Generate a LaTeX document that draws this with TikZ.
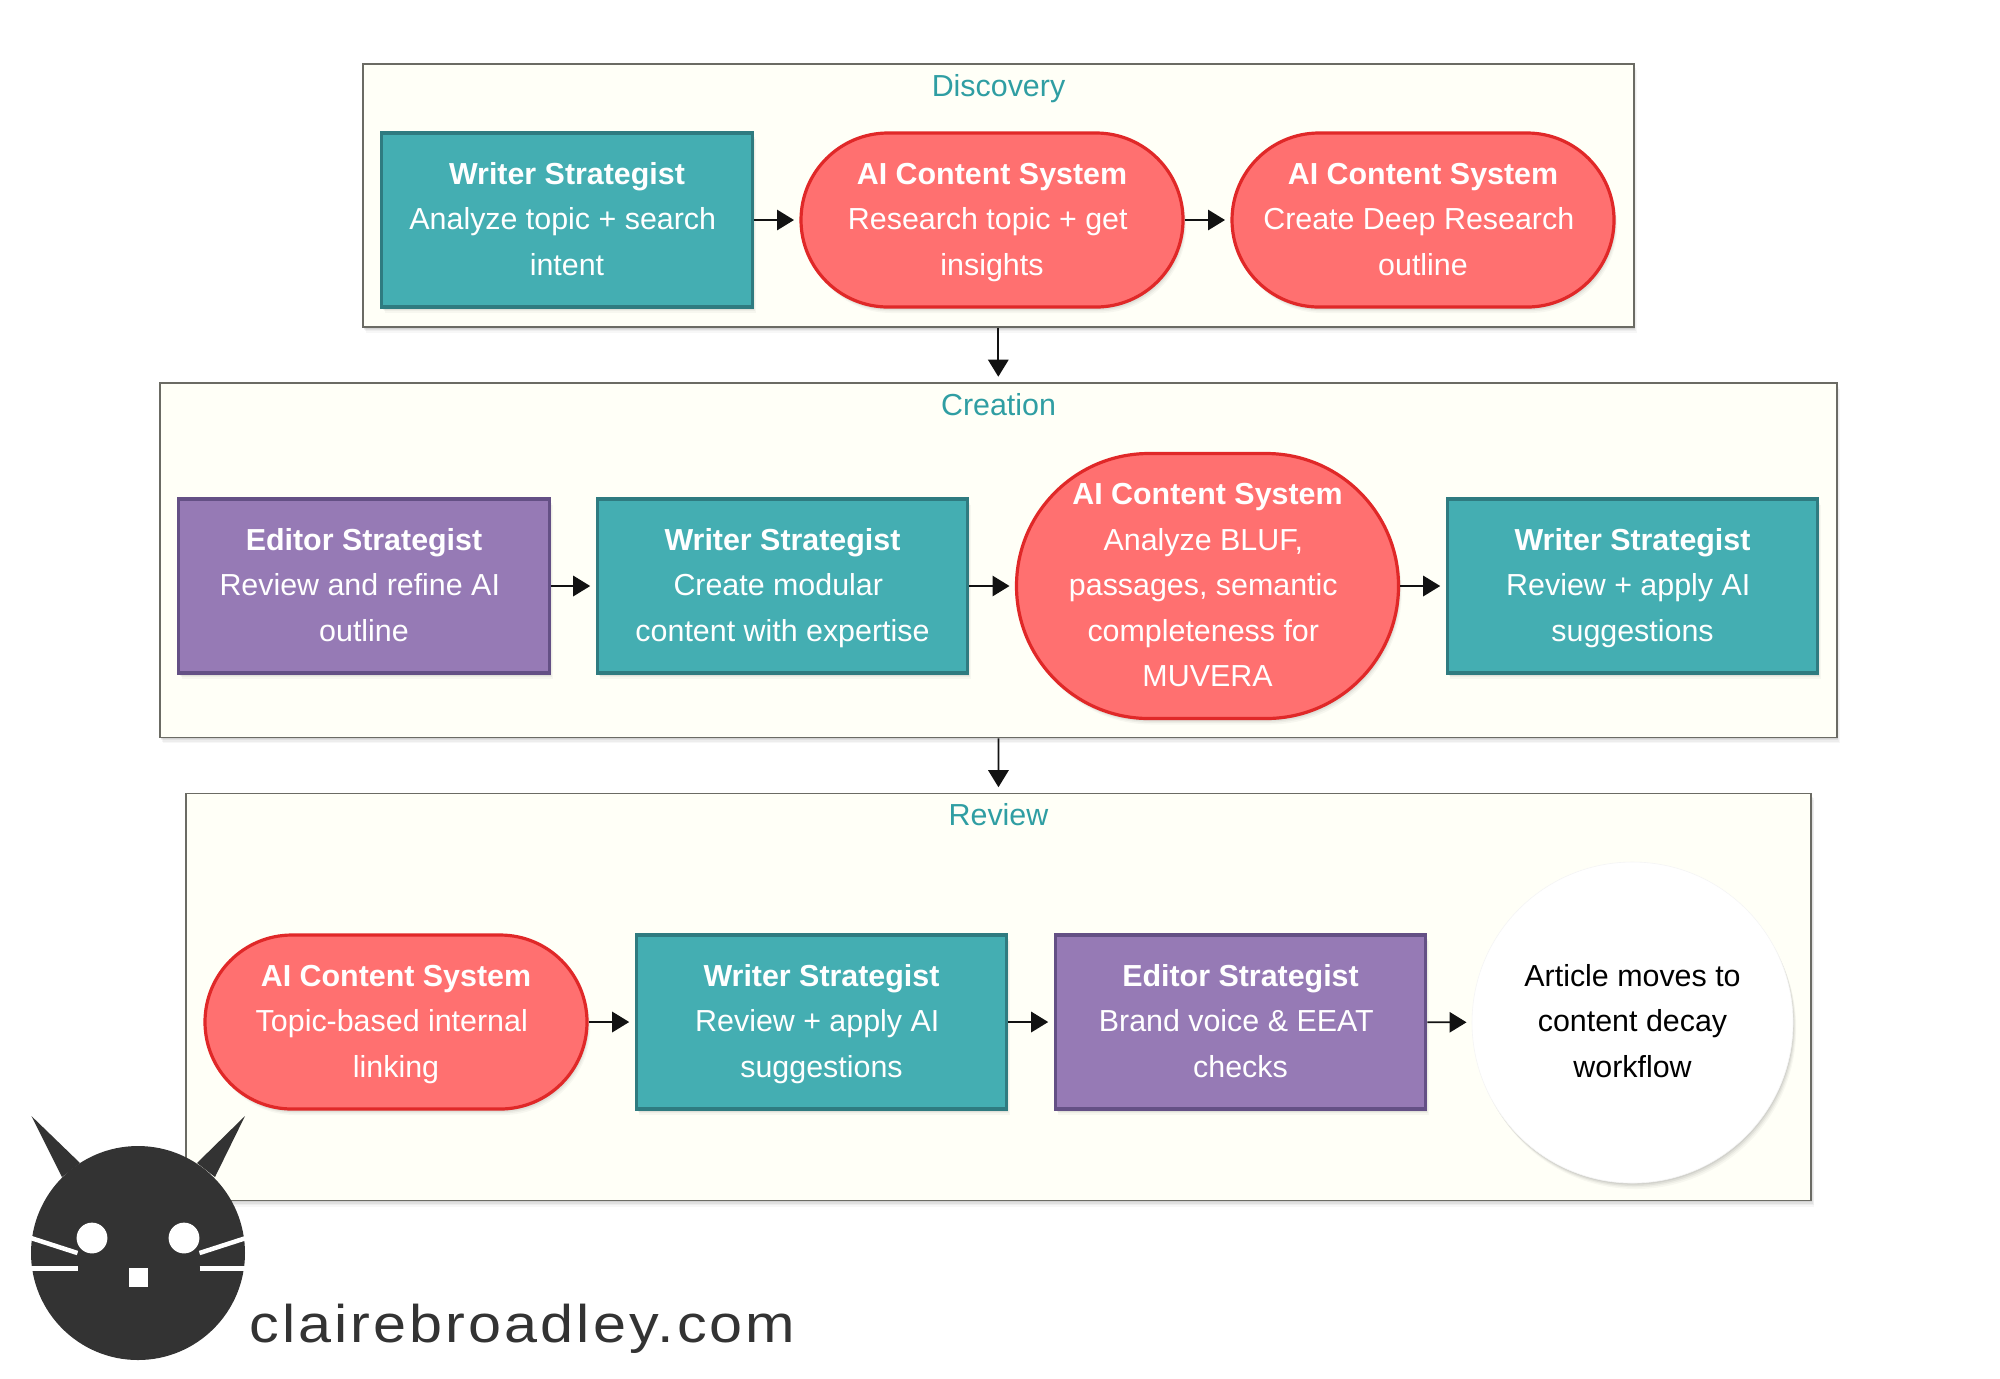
\documentclass[tikz,border=0pt]{standalone}
\usepackage{fontspec}
\setmainfont{Liberation Sans}
\newfontfamily\logofont[FakeStretch=1.12,LetterSpace=5.8]{Liberation Sans}
\usetikzlibrary{shadows,arrows.meta,calc}
\definecolor{groupfill}{HTML}{FFFFF7}
\definecolor{groupline}{HTML}{6B6B64}
\definecolor{titleteal}{HTML}{2F9EA3}
\definecolor{tealfill}{HTML}{44AEB2}
\definecolor{tealline}{HTML}{2F7B80}
\definecolor{redfill}{HTML}{FF7070}
\definecolor{redline}{HTML}{E02828}
\definecolor{purplefill}{HTML}{967AB5}
\definecolor{purpleline}{HTML}{645085}
\definecolor{logodark}{HTML}{333333}
\newcommand{\phtop}{\rule{0pt}{13pt}}
\newcommand{\phbot}{\vphantom{g}}
\newcommand{\trail}{\kern4.23pt}
\tikzset{
  softshadow/.style={
    general shadow={fill=black,opacity=.03,shadow xshift=1.6pt,shadow yshift=-3pt},
    general shadow={fill=black,opacity=.04,shadow xshift=1.2pt,shadow yshift=-2.2pt},
    general shadow={fill=black,opacity=.05,shadow xshift=.8pt,shadow yshift=-1.5pt},
    general shadow={fill=black,opacity=.06,shadow xshift=.4pt,shadow yshift=-.8pt}},
  groupbox/.style={draw=groupline,fill=groupfill,line width=.9pt,inner sep=0pt,softshadow},
  grouptitle/.style={text=titleteal,inner sep=0pt,anchor=base,font=\fontsize{15.2}{18}\selectfont},
  flowbase/.style={line width=1.6pt,inner sep=0pt,text=white,align=center,
    font=\fontsize{15.2}{22.75}\selectfont,softshadow},
  writerbox/.style={flowbase,draw=tealline,fill=tealfill,minimum width=185.3pt,minimum height=87pt},
  editorbox/.style={flowbase,draw=purpleline,fill=purplefill,minimum width=185.3pt,minimum height=87pt},
  aibox/.style={flowbase,draw=redline,fill=redfill,minimum width=191pt,minimum height=87pt,rounded corners=43.5pt},
  aitall/.style={flowbase,draw=redline,fill=redfill,minimum width=191pt,minimum height=132.5pt,rounded corners=66.2pt},
  endcircle/.style={circle,draw=black!4,line width=.3pt,fill=white,text=black,inner sep=0pt,align=center,
    minimum size=160.5pt,font=\fontsize{15.2}{22.75}\selectfont,softshadow},
  flowarrow/.style={draw=black!93,line width=.85pt,-{Triangle[length=8.5pt,width=10.2pt]},shorten >=2.7pt}
}
\begin{document}
\begin{tikzpicture}[x=.5pt,y=-.5pt]
\useasboundingbox (0,0) rectangle (2000,1378);
\fill[white] (0,0) rectangle (2000,1378);
% groups
\node[groupbox,minimum width=635.5pt,minimum height=131.5pt] (g1) at (998.3,195.5) {};
\node[groupbox,minimum width=838.5pt,minimum height=177.2pt] (g2) at (998.3,560.2) {};
\node[groupbox,minimum width=812.5pt,minimum height=203.5pt] (g3) at (998.6,997) {};
\node[grouptitle] (t1) at (998.5,96) {Discovery};
\node[grouptitle] (t2) at (998.5,415) {Creation};
\node[grouptitle] (t3) at (998.5,825) {Review};
% discovery
\node[writerbox] (a1) at (567,220) {\phtop\textbf{Writer Strategist}\\Analyze topic + search\trail\\\phbot intent};
\node[aibox] (a2) at (992,220) {\phtop\textbf{AI Content System}\\Research topic + get\trail\\\phbot insights};
\node[aibox] (a3) at (1423,220) {\phtop\textbf{AI Content System}\\Create Deep Research\trail\\\phbot outline};
% creation
\node[editorbox] (b1) at (364,586) {\phtop\textbf{Editor Strategist}\\Review and refine AI\trail\\\phbot outline};
\node[writerbox] (b2) at (782.5,586) {\phtop\textbf{Writer Strategist}\\Create modular\trail\\\phbot content with expertise};
\node[aitall] (b3) at (1207.5,586) {\phtop\textbf{AI Content System}\\Analyze BLUF,\trail\\passages, semantic\trail\\completeness for\trail\\\phbot MUVERA};
\node[writerbox] (b4) at (1632.5,586) {\phtop\textbf{Writer Strategist}\\Review + apply AI\trail\\\phbot suggestions};
% review
\node[aibox] (c1) at (396,1022) {\phtop\textbf{AI Content System}\\Topic-based internal\trail\\\phbot linking};
\node[writerbox] (c2) at (821.5,1022) {\phtop\textbf{Writer Strategist}\\Review + apply AI\trail\\\phbot suggestions};
\node[editorbox] (c3) at (1240.5,1022) {\phtop\textbf{Editor Strategist}\\Brand voice \& EEAT\trail\\\phbot checks};
\node[endcircle] (c4) at (1632.5,1022.5) {\rule{0pt}{12.4pt}Article moves to\\content decay\\\phbot workflow};
% connectors
\draw[flowarrow] (a1) -- (a2);
\draw[flowarrow] (a2) -- (a3);
\draw[flowarrow] (b1) -- (b2);
\draw[flowarrow] (b2) -- (b3);
\draw[flowarrow] (b3) -- (b4);
\draw[flowarrow] (c1) -- (c2);
\draw[flowarrow] (c2) -- (c3);
\draw[flowarrow,shorten >=2.6pt] (c3) -- (c4);
\draw[flowarrow] (g1) -- (g2);
\draw[flowarrow] (g2) -- (g3);
% logo
\fill[logodark] (31.4,1116) -- (80,1163) -- (62,1177) -- cycle;
\fill[logodark] (245,1116) -- (197,1163) -- (215,1177) -- cycle;
\fill[logodark] (138,1253) circle [radius=53.5pt];
\fill[white] (92,1238) circle [radius=7.7pt];
\fill[white] (184,1238) circle [radius=7.7pt];
\fill[white] (129,1268) rectangle (147.5,1287);
\draw[white,line width=2.25pt] (31,1238) -- (77.5,1253);
\draw[white,line width=2.25pt] (31,1268.7) -- (77.5,1268.7);
\draw[white,line width=2.25pt] (199.5,1253) -- (246,1238);
\draw[white,line width=2.25pt] (199.5,1268.7) -- (246,1268.7);
\node[anchor=base west,inner sep=0pt,text=logodark,font=\logofont\fontsize{26.5}{30}\selectfont] (logotext) at (249,1342) {clairebroadley.com};
\end{tikzpicture}
\end{document}
